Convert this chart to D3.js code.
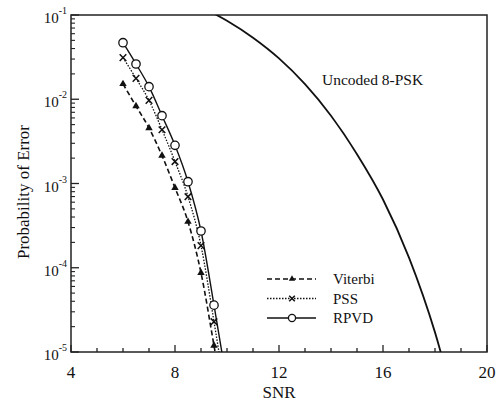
<!DOCTYPE html>
<html>
<head>
<meta charset="utf-8">
<script src="https://cdn.jsdelivr.net/npm/d3@7"></script>
<style>
  body { margin: 0; background: #fff; }
  text { font-family: "Liberation Serif", "DejaVu Serif", serif; fill: #111; }
</style>
</head>
<body>
<svg id="chart" width="497" height="401"></svg>
<script>
// data
let snrCoded = [6, 6.5, 7, 7.5, 8, 8.5, 9, 9.5, 10]
let viterbi = [0.0152, 0.0083, 0.00456, 0.00214, 0.00089, 0.000352, 0.000087, 0.0000119, 0.0000015]
let pss = [0.0312, 0.0177, 0.0097, 0.00435, 0.00182, 0.000698, 0.000183, 0.0000229, 0.0000025]
let rpvd = [0.0469, 0.0262, 0.0141, 0.00638, 0.00284, 0.00105, 0.000273, 0.000036, 0.0000043]
let snrUncoded = [9, 10, 11, 12, 13, 14, 15, 16, 17, 18, 19]
let uncoded = [0.125, 0.0853, 0.0537, 0.0305, 0.0151, 0.00638, 0.00223, 0.000646, 0.000132, 0.0000171, 0.0000012]
let xTicks = [4, 8, 12, 16, 20]
let yTicks = [1e-1, 1e-2, 1e-3, 1e-4, 1e-5]
let seriesNames = ["Viterbi", "PSS", "RPVD"]

let svg = d3.select("#chart")
let margin = { top: 15, right: 10, bottom: 49, left: 71 }
let width = 487 - margin.left
let height = 352 - margin.top

let xScale = d3.scaleLinear().domain([4, 20]).range([0, width])
let yScale = d3.scaleLog().domain([1e-5, 1e-1]).range([height, 0])

let g = svg.append("g")
    .attr("transform", "translate(" + margin.left + "," + margin.top + ")")

svg.append("defs").append("clipPath").attr("id", "clip")
    .append("rect").attr("width", width).attr("height", height)

// frame
g.append("rect")
    .attr("width", width).attr("height", height)
    .attr("fill", "none").attr("stroke", "#222").attr("stroke-width", 1.5)

// x ticks (inward)
let xMinor = d3.range(4, 21, 1)
g.selectAll(".xt").data(xMinor).enter().append("line")
    .attr("x1", d => xScale(d)).attr("x2", d => xScale(d))
    .attr("y1", height).attr("y2", d => height - (d % 4 == 0 ? 7 : 4))
    .attr("stroke", "#222").attr("stroke-width", 1.3)

g.selectAll(".xl").data(xTicks).enter().append("text")
    .attr("x", d => xScale(d)).attr("y", height + 26)
    .attr("text-anchor", "middle").attr("font-size", 17)
    .text(d => d)

// y ticks (inward), minor at 2..9 of each decade
let yMinor = []
for (let e = -5; e < -1; e++) {
    for (let m = 2; m <= 9; m++) yMinor.push(m * Math.pow(10, e))
}
g.selectAll(".ym").data(yMinor).enter().append("line")
    .attr("x1", 0).attr("x2", 4)
    .attr("y1", d => yScale(d)).attr("y2", d => yScale(d))
    .attr("stroke", "#222").attr("stroke-width", 1.1)
g.selectAll(".yM").data(yTicks).enter().append("line")
    .attr("x1", 0).attr("x2", 8)
    .attr("y1", d => yScale(d)).attr("y2", d => yScale(d))
    .attr("stroke", "#222").attr("stroke-width", 1.3)

let yLab = g.selectAll(".yl").data(yTicks).enter().append("text")
    .attr("x", -4).attr("y", d => yScale(d) + 8)
    .attr("text-anchor", "end").attr("font-size", 15)
yLab.append("tspan").text("10")
yLab.append("tspan").attr("dy", -9).attr("font-size", 10)
    .text(d => "-" + Math.round(-Math.log10(d)))

// axis titles
svg.append("text")
    .attr("x", margin.left + xScale(12)).attr("y", 398)
    .attr("text-anchor", "middle").attr("font-size", 17)
    .text("SNR")
svg.append("text")
    .attr("transform", "translate(29," + (margin.top + 177) + ") rotate(-90)")
    .attr("text-anchor", "middle").attr("font-size", 17)
    .text("Probability of Error")

// lines
let line = d3.line()
    .x(d => xScale(d[0]))
    .y(d => yScale(d[1]))
    .curve(d3.curveMonotoneX)

let plot = g.append("g").attr("clip-path", "url(#clip)")

let styles = [
    { dash: "5,3", width: 1.6 },
    { dash: "1.5,1.5", width: 1.3 },
    { dash: null, width: 1.4 }
]
let sets = [viterbi, pss, rpvd]

plot.append("path")
    .attr("d", line(d3.zip(snrUncoded, uncoded)))
    .attr("fill", "none").attr("stroke", "#111").attr("stroke-width", 1.8)

sets.forEach((vals, i) => {
    plot.append("path")
        .attr("d", line(d3.zip(snrCoded, vals)))
        .attr("fill", "none").attr("stroke", "#111")
        .attr("stroke-width", styles[i].width)
        .attr("stroke-dasharray", styles[i].dash)
})

// markers
function drawMarker(sel, kind, x, y, s) {
    if (kind == 0) {
        sel.append("path")
            .attr("d", d3.symbol().type(d3.symbolTriangle).size(24 * s * s)())
            .attr("transform", "translate(" + x + "," + y + ")")
            .attr("fill", "#111")
    } else if (kind == 1) {
        let r = 3.3 * s
        sel.append("path")
            .attr("d", "M" + -r + "," + -r + "L" + r + "," + r + "M" + -r + "," + r + "L" + r + "," + -r)
            .attr("transform", "translate(" + x + "," + y + ")")
            .attr("stroke", "#111").attr("stroke-width", 1.5).attr("fill", "none")
    } else {
        sel.append("circle")
            .attr("cx", x).attr("cy", y).attr("r", 4.2 * s)
            .attr("fill", "#fff").attr("stroke", "#111").attr("stroke-width", 1.3)
    }
}

sets.forEach((vals, i) => {
    snrCoded.forEach((s, j) => {
        if (vals[j] >= 1e-5) drawMarker(plot, i, xScale(s), yScale(vals[j]), 1)
    })
})

// annotation
g.append("text")
    .attr("x", 251).attr("y", 70)
    .attr("font-size", 15.5)
    .text("Uncoded 8-PSK")

// legend
let legend = svg.append("g")
seriesNames.forEach((name, i) => {
    let ly = 279 + i * 19.5
    legend.append("line")
        .attr("x1", 267).attr("x2", 316).attr("y1", ly).attr("y2", ly)
        .attr("stroke", "#111").attr("stroke-width", styles[i].width)
        .attr("stroke-dasharray", styles[i].dash)
    drawMarker(legend, i, 292, ly, 0.85)
    legend.append("text")
        .attr("x", 333).attr("y", ly + 5)
        .attr("font-size", 15)
        .text(name)
})
</script>
</body>
</html>
